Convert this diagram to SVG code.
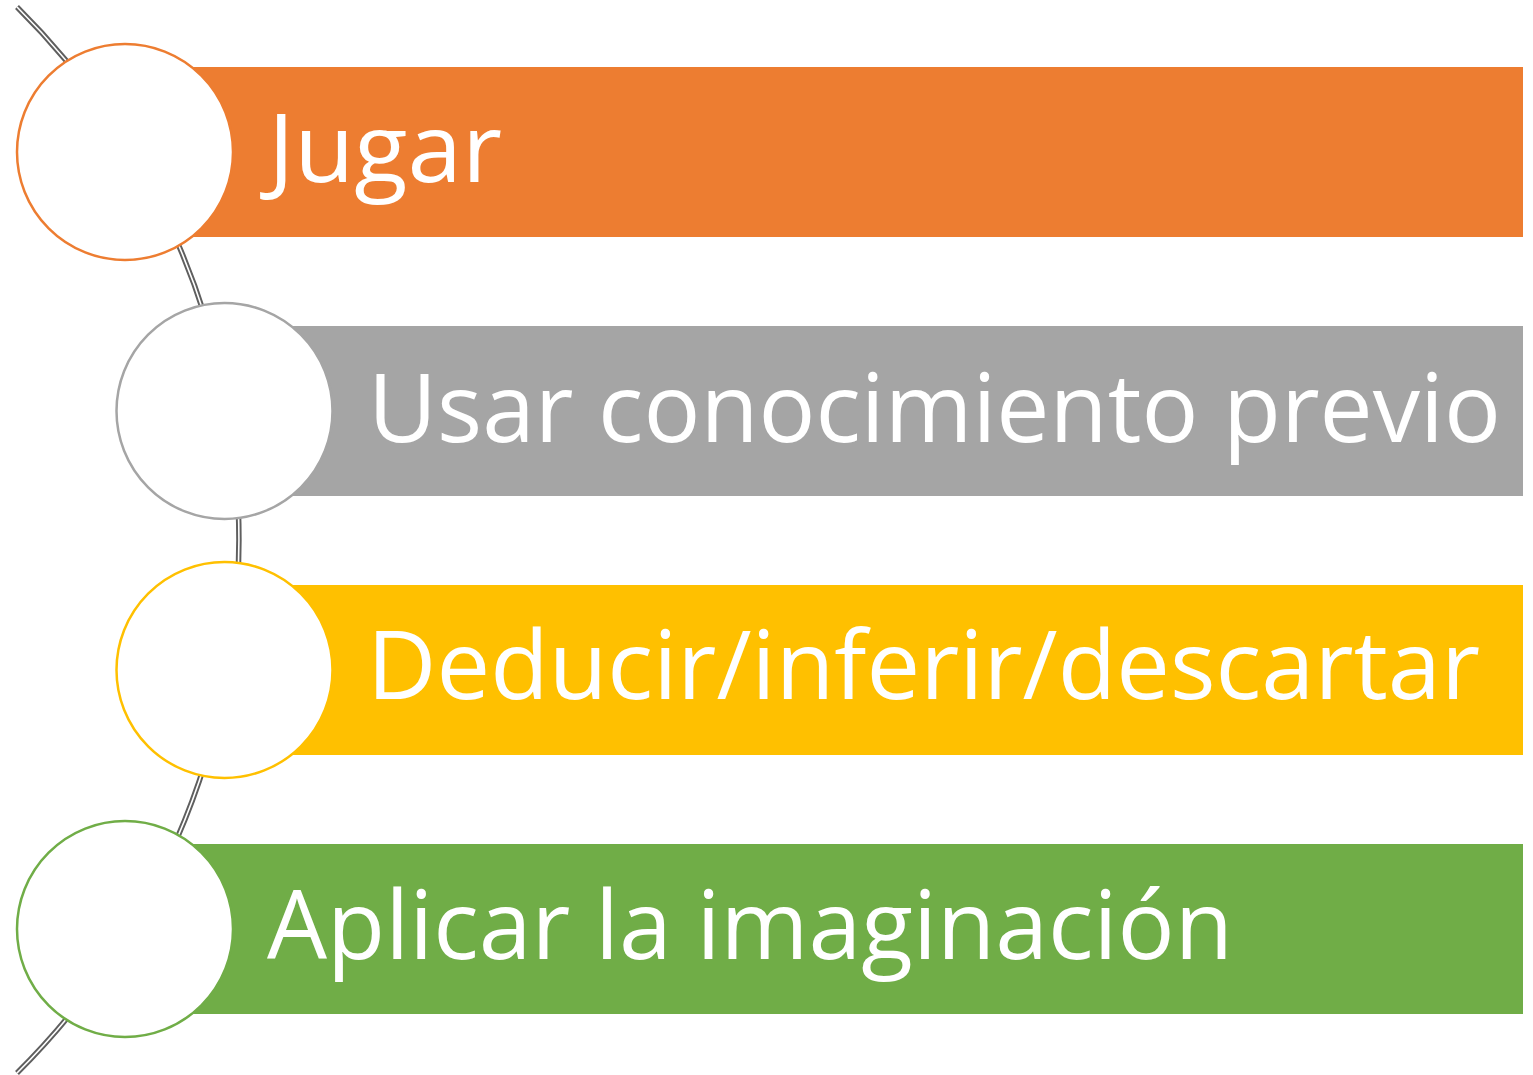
<svg xmlns="http://www.w3.org/2000/svg" width="1533" height="1075" viewBox="0 0 1533 1075">
<style>
.lbl{font-family:"Open Sans","Noto Sans","Liberation Sans",sans-serif;font-size:95px;fill:#fff}
.ring{fill:#fff;stroke-width:2.5}
</style>
<rect width="1533" height="1075" fill="#fff"/>
<g id="connectors">
<path d="M17,7 A751,751 0 0 1 17,1073" fill="none" stroke="#5f5f5f" stroke-width="5.5"/>
<path d="M17,7 A751,751 0 0 1 17,1073" fill="none" stroke="#fff" stroke-width="1.6"/>
</g>
<g id="node1">
<rect x="125" y="67" width="1398" height="170" fill="#ED7D31"/>
<circle class="ring" cx="125" cy="152" r="108" stroke="#ED7D31"/>
<text class="lbl" x="268" y="182" textLength="234" lengthAdjust="spacingAndGlyphs">Jugar</text>
</g>
<g id="node2">
<rect x="225" y="326" width="1298" height="170" fill="#A5A5A5"/>
<circle class="ring" cx="224.5" cy="411" r="108" stroke="#A5A5A5"/>
<text class="lbl" x="368" y="442" textLength="1133" lengthAdjust="spacingAndGlyphs">Usar conocimiento previo</text>
</g>
<g id="node3">
<rect x="225" y="585" width="1298" height="170" fill="#FFC000"/>
<circle class="ring" cx="224.5" cy="670" r="108" stroke="#FFC000"/>
<text class="lbl" x="367" y="699" textLength="1113" lengthAdjust="spacingAndGlyphs">Deducir/inferir/descartar</text>
</g>
<g id="node4">
<rect x="125" y="844" width="1398" height="170" fill="#70AD47"/>
<circle class="ring" cx="125" cy="929" r="108" stroke="#70AD47"/>
<text class="lbl" x="267" y="959" textLength="966" lengthAdjust="spacingAndGlyphs">Aplicar la imaginación</text>
</g>
</svg>
